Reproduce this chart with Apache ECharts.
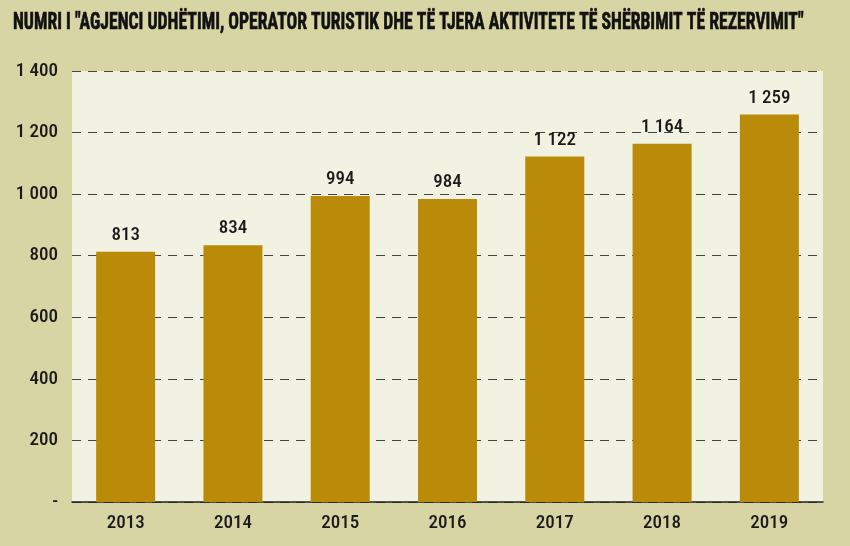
<!DOCTYPE html>
<html><head><meta charset="utf-8">
<script src="https://cdn.jsdelivr.net/npm/echarts@6/dist/echarts.min.js"></script>
<style>html,body{margin:0;padding:0;background:#d6d5a3;}#c{width:850px;height:546px;}</style>
</head><body><div id="c"></div>
<script>
const categories = ['2013','2014','2015','2016','2017','2018','2019'];
const values = [813, 834, 994, 984, 1122, 1164, 1259];
const titleText = 'NUMRI I "AGJENCI UDHËTIMI, OPERATOR TURISTIK DHE TË TJERA AKTIVITETE TË SHËRBIMIT TË REZERVIMIT"';
const fmt = v => v === 0 ? '-' : String(v).replace(/\B(?=(\d{3})+(?!\d))/g, ' ');
const FONT = '"Liberation Sans Narrow","Roboto Condensed","DejaVu Sans Condensed",sans-serif';
const chart = echarts.init(document.getElementById('c'));
chart.setOption({
  backgroundColor: '#d6d5a3',
  animation: false,
  graphic: [{
    type: 'text', x: 13, y: 12, scaleX: 0.77, scaleY: 1,
    style: {text: titleText, fill: '#111', fontFamily: FONT, fontWeight: 'bold', fontSize: 23, textVerticalAlign: 'top', stroke: '#111', lineWidth: 0.6}
  }],
  grid: {left: 72, right: 27, top: 71, bottom: 44, show: true, backgroundColor: '#f2f2e3', borderWidth: 0},
  xAxis: {
    type: 'category', data: categories,
    axisLine: {lineStyle: {color: '#222', width: 1.5}},
    axisTick: {show: false},
    axisLabel: {fontFamily: FONT, fontSize: 19, fontWeight: 500, color: '#1a1a1a', margin: 12}
  },
  yAxis: {
    type: 'value', min: 0, max: 1400, interval: 200,
    axisLine: {show: false}, axisTick: {show: false},
    axisLabel: {fontFamily: FONT, fontSize: 19, fontWeight: 500, color: '#1a1a1a', margin: 14, formatter: fmt},
    splitLine: {lineStyle: {color: '#444', type: [9, 7], width: 1.2}}
  },
  series: [{
    type: 'bar', data: values, barWidth: '55%',
    itemStyle: {color: '#b98b08'},
    label: {show: true, position: 'top', distance: 7, fontFamily: FONT, fontSize: 19, fontWeight: 500, color: '#1a1a1a', formatter: p => fmt(p.value)}
  }]
});
</script></body></html>
